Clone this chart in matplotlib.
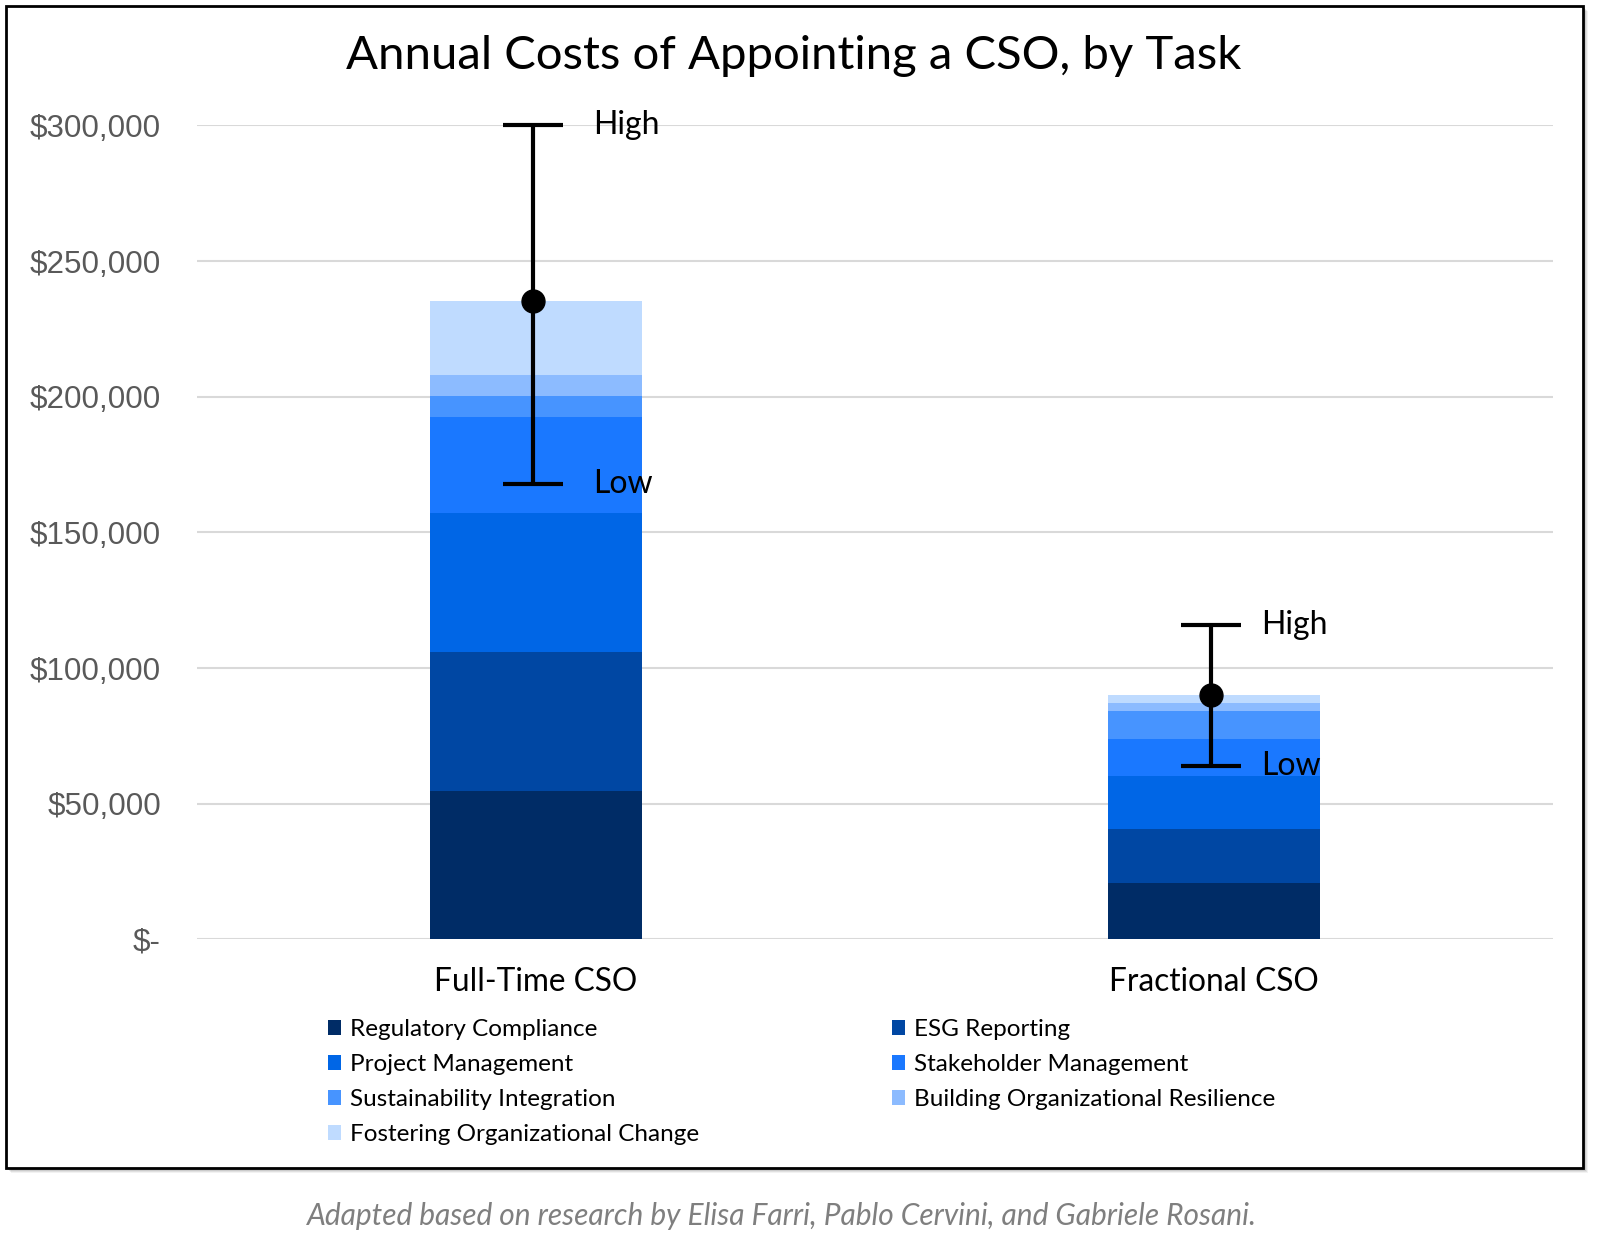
import matplotlib
matplotlib.use("Agg")
import matplotlib.pyplot as plt
import numpy as np
from matplotlib.patches import Rectangle, Patch
from matplotlib.ticker import FuncFormatter

# data (US dollars per year)
roles = ["Full-Time CSO", "Fractional CSO"]
tasks = ["Regulatory Compliance", "ESG Reporting", "Project Management",
         "Stakeholder Management", "Sustainability Integration",
         "Building Organizational Resilience", "Fostering Organizational Change"]
full_time = [54800, 51000, 51200, 35500, 7800, 7700, 27400]
fractional = [20900, 19600, 19700, 13500, 10600, 2900, 2800]
high = [300000, 115900]
low = [168000, 63800]

colors = ["#002C66", "#0047A3", "#0066E6", "#1A78FF",
          "#4794FF", "#8CBBFF", "#BFDBFF"]

plt.rcParams['font.family'] = ['Lato', 'DejaVu Sans']

fig = plt.figure(figsize=(16, 12.51), dpi=100)

# outer frame with a soft shadow
for i, a in enumerate([0.05, 0.07, 0.09, 0.12]):
    off = (5 - i) / 1600
    fig.patches.append(Rectangle((6/1600 + off, 1 - 1168/1251 - off*1.28),
                                 1577/1600, 1162/1251, transform=fig.transFigure,
                                 facecolor="black", alpha=a, edgecolor="none", zorder=0))
fig.patches.append(Rectangle((6/1600, 1 - 1168/1251), 1577/1600, 1162/1251,
                             transform=fig.transFigure, facecolor="white",
                             edgecolor="black", linewidth=2, zorder=1))

ax = fig.add_axes([197/1600, 1 - 939.3/1251, 1356/1600, 813.9/1251])
ax.set_zorder(2)
ax.patch.set_visible(False)

x = np.arange(len(roles))
stack = np.array([full_time, fractional]).T  # rows = tasks
bottom = np.zeros(len(roles))
for task, vals, c in zip(tasks, stack, colors):
    ax.bar(x, vals, width=0.314, bottom=bottom, color=c, label=task,
           edgecolor="none", zorder=3)
    bottom += vals

totals = bottom
yerr = [totals - np.array(low), np.array(high) - totals]
ax.errorbar(x - 0.004, totals, yerr=yerr, fmt="o", color="black", markersize=16.5,
            elinewidth=3, capsize=21.6, capthick=3, zorder=5, clip_on=False)

# label offsets differ a little between the two bars in the original
for xi, h, l, ox in zip(x, high, low, [41, 34]):
    ax.annotate("High", xy=(xi, h), xytext=(ox, 0), textcoords="offset points",
                ha="left", va="center", fontsize=23, color="black",
                annotation_clip=False)
    ax.annotate("Low", xy=(xi, l), xytext=(ox, 0), textcoords="offset points",
                ha="left", va="center", fontsize=23, color="black")

ax.set_xlim(-0.5, 1.5)
ax.set_ylim(0, 300000)
ax.set_yticks(np.arange(0, 300001, 50000))
ax.yaxis.set_major_formatter(FuncFormatter(
    lambda v, p: "$-" if v == 0 else "${:,.0f}".format(v)))
ax.grid(axis="y", color="#D9D9D9", linewidth=1.5, zorder=0)
ax.set_axisbelow(True)
for s in ax.spines.values():
    s.set_visible(False)
ax.tick_params(axis="y", length=0, pad=26, labelsize=22.6, labelcolor="#595959")
for lab in ax.get_yticklabels():
    lab.set_family(['Liberation Sans', 'DejaVu Sans'])
    lab.set_va("center_baseline")
ax.set_xticks(x)
ax.set_xticklabels(roles, fontsize=22.8)
ax.tick_params(axis="x", length=0, pad=20)

# legend: row-major order as in the reference
handles = [Patch(facecolor=c, edgecolor="none") for c in colors]
order = [0, 2, 4, 6, 1, 3, 5]
fig.legend([handles[i] for i in order], [tasks[i] for i in order],
           ncol=2, loc="upper left", bbox_to_anchor=(306/1600, 1 - 997/1251),
           frameon=False, fontsize=17.5, handlelength=0.55, handleheight=0.55,
           handletextpad=0.35, columnspacing=7.95, labelspacing=0.58)

fig.text(794/1600, 1 - 56/1251, "Annual Costs of Appointing a CSO, by Task",
         ha="center", va="center", fontsize=34, color="black")
fig.text(782/1600, 1 - 1216/1251,
         "Adapted based on research by Elisa Farri, Pablo Cervini, and Gabriele Rosani.",
         ha="center", va="center", fontsize=21.5, style="italic", color="#7F7F7F")

fig.savefig("out.png", dpi=100)
